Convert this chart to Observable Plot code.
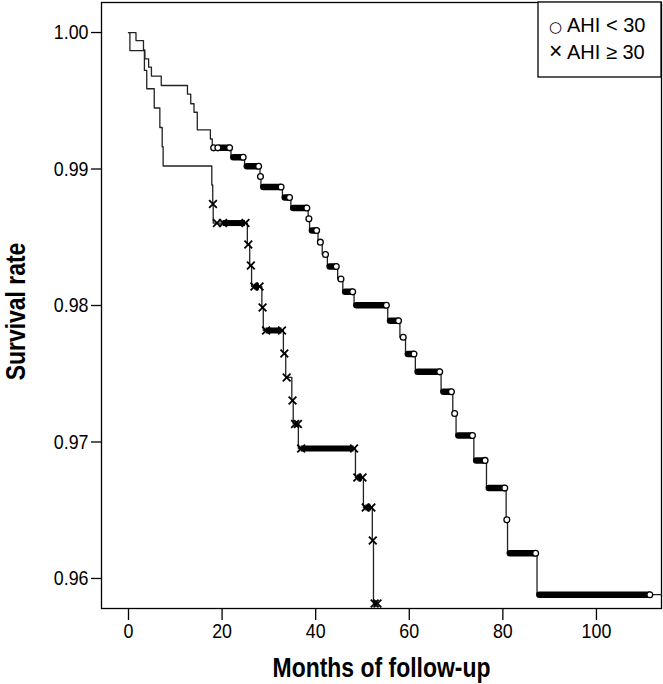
<!DOCTYPE html>
<html><head><meta charset="utf-8">
<script src="https://cdn.jsdelivr.net/npm/d3@7"></script>
<script src="https://cdn.jsdelivr.net/npm/@observablehq/plot@0.6"></script>
<style>
body{margin:0;background:#fff;}
#chart{width:663px;height:684px;}
</style></head><body><div id="chart"></div>
<script>
// ---- AHI < 30 (circles) ----
const lowTimes = [1.6, 3.2, 3.5, 4.3, 4.9, 7.0, 12.6, 13.3, 14.0, 14.7, 17.5, 17.9, 21.9, 24.8, 28.1, 28.3, 32.9, 34.7, 38.4, 38.7, 40.5, 41.4, 42.5, 44.7, 45.8, 48.2, 55.4, 58.0, 59.2, 61.3, 66.8, 69.3, 70.0, 73.8, 76.5, 80.7, 81.0, 87.3];
const lowSurv  = [0.99941, 0.99872, 0.99807, 0.99746, 0.99681, 0.99612, 0.99548, 0.99478, 0.99416, 0.99287, 0.99220, 0.99155, 0.99086, 0.99020, 0.98945, 0.98868, 0.98791, 0.98714, 0.98635, 0.98550, 0.98464, 0.98374, 0.98286, 0.98194, 0.98100, 0.98002, 0.97888, 0.97767, 0.97645, 0.97514, 0.97368, 0.97209, 0.97048, 0.96865, 0.96662, 0.96430, 0.96185, 0.95881];
const lowEnd = 113.9;
const lowCensorSingles = [18.2, 19.1, 28.2, 38.55, 41.0, 42.1, 45.4, 58.7, 69.7, 80.85];
const lowCensorRuns = [[19.7, 21.6], [22.5, 24.5], [25.4, 27.8], [28.9, 32.6], [33.5, 34.4], [35.3, 38.1], [39.3, 40.2], [43.1, 44.4], [46.4, 47.9], [48.8, 55.1], [56.0, 57.7], [59.8, 61.0], [61.9, 66.5], [67.4, 69.0], [70.6, 73.5], [74.4, 76.2], [77.1, 80.4], [81.6, 87.0], [87.9, 111.4]];

// ---- AHI >= 30 (crosses) ----
const highTimes = [0.3, 3.4, 3.9, 5.5, 6.7, 7.2, 7.4, 17.8, 18.0, 18.1, 25.4, 25.9, 26.3, 28.5, 28.8, 33.1, 33.6, 34.9, 35.2, 36.3, 48.5, 50.2, 52.1, 52.35];
const highSurv  = [0.99868, 0.99722, 0.99588, 0.99447, 0.99304, 0.99163, 0.99022, 0.98883, 0.98744, 0.98604, 0.98447, 0.98293, 0.98139, 0.97985, 0.97817, 0.97648, 0.97473, 0.97304, 0.97132, 0.96952, 0.96740, 0.96520, 0.96278, 0.95817];
const highEnd = 53.3;
const highCensorSingles = [18.05, 18.9, 25.6, 26.15, 28.65, 33.3, 33.8, 35.05, 52.2];
const highCensorRuns = [[20.2, 25.0], [26.9, 28.0], [29.4, 32.8], [35.6, 36.2], [36.9, 48.2], [48.9, 50.0], [50.7, 51.9], [52.6, 53.2]];

const xTicks = [0, 20, 40, 60, 80, 100];
const yTicks = [0.96, 0.97, 0.98, 0.99, 1.00];
const legendLabels = ["AHI < 30", "AHI \u2265 30"];

function survAt(times, surv, t) {
  let v = 1;
  for (let i = 0; i < times.length; i++) { if (times[i] <= t) v = surv[i]; else break; }
  return v;
}
function curve(times, surv, end) {
  const pts = [{t: 0, v: 1}];
  times.forEach((t, i) => pts.push({t, v: surv[i]}));
  pts.push({t: end, v: surv[surv.length - 1]});
  return pts;
}
const lowCurve = curve(lowTimes, lowSurv, lowEnd);
const highCurve = curve(highTimes, highSurv, highEnd);
const lowRuns = lowCensorRuns.map(([a, b]) => ({a, b, v: survAt(lowTimes, lowSurv, a)}));
const highRuns = highCensorRuns.map(([a, b]) => ({a, b, v: survAt(highTimes, highSurv, a)}));
const lowMarks = [...lowCensorSingles, ...lowCensorRuns.map(r => r[1])].map(t => ({t, v: survAt(lowTimes, lowSurv, t)}));
const highMarks = [...highCensorSingles, ...highCensorRuns.flat()].map(t => ({t, v: survAt(highTimes, highSurv, t)}));

const FONT = "'Liberation Sans', Arial, sans-serif";

const plot = Plot.plot({
  width: 663, height: 684,
  marginLeft: 101, marginRight: 2, marginTop: 2, marginBottom: 76,
  style: {fontFamily: FONT, background: "white", color: "black"},
  x: {domain: [-5.77, 113.9]},
  y: {domain: [0.95780, 1.00220]},
  marks: [
    Plot.frame({stroke: "black", strokeWidth: 1.3}),
    Plot.axisX({ticks: xTicks, tickSize: 12, tickPadding: 3, fontSize: 21, label: null, strokeWidth: 1.3}),
    Plot.axisY({ticks: yTicks, tickFormat: d => d.toFixed(2), tickSize: 10, tickPadding: 3, fontSize: 21, label: null, strokeWidth: 1.3}),
    Plot.line(highCurve, {x: "t", y: "v", curve: "step-after", stroke: "#222", strokeWidth: 1.3}),
    Plot.line(lowCurve, {x: "t", y: "v", curve: "step-after", stroke: "#222", strokeWidth: 1.3}),
    Plot.ruleY(highRuns, {y: "v", x1: "a", x2: "b", stroke: "black", strokeWidth: 6}),
    Plot.dot(highMarks, {x: "t", y: "v", symbol: "times", r: 3.6, stroke: "black", strokeWidth: 1.8}),
    Plot.ruleY(lowRuns, {y: "v", x1: "a", x2: "b", stroke: "black", strokeWidth: 6.5, strokeLinecap: "round"}),
    Plot.dot(lowMarks, {x: "t", y: "v", r: 2.9, fill: "white", stroke: "black", strokeWidth: 1.3}),
    Plot.text(["Months of follow-up"], {frameAnchor: "bottom", dy: 60, lineAnchor: "middle", textAnchor: "middle", fontSize: 27, fontWeight: "bold"}),
    Plot.text(["Survival rate"], {frameAnchor: "left", dx: -85, dy: 6, lineAnchor: "middle", textAnchor: "middle", rotate: -90, fontSize: 27, fontWeight: "bold"})
  ]
});
document.getElementById("chart").appendChild(plot);

// condense axis and title text horizontally (narrow sans look)
d3.select(plot).selectAll("g[aria-label$='tick label'] text, g[aria-label='text'] text").each(function() {
  const tr = this.getAttribute("transform");
  if (tr) this.setAttribute("transform", tr + " scale(0.85,1)");
});

// legend box (top-right, inside frame)
const svg = d3.select(plot);
const g = svg.append("g").attr("text-anchor", "start");
g.append("rect").attr("x", 538).attr("y", 2).attr("width", 123).attr("height", 75)
  .attr("fill", "white").attr("stroke", "black").attr("stroke-width", 1.3);
const syms = ["\u25CB", "\u00D7"];
const symFonts = [["'DejaVu Sans', sans-serif", 15], ["'Liberation Sans', Arial, sans-serif", 23]];
legendLabels.forEach((lab, i) => {
  g.append("text").attr("x", 549).attr("y", 32 + i * 27)
    .attr("font-family", symFonts[i][0]).attr("font-size", symFonts[i][1]).attr("fill", "black")
    .attr("text-anchor", "start").text(syms[i]);
  g.append("text").attr("x", 567).attr("y", 32 + i * 27)
    .attr("font-family", "'Liberation Sans', Arial, sans-serif").attr("font-size", 20).attr("fill", "black")
    .attr("text-anchor", "start").text(lab);
});
</script></body></html>
